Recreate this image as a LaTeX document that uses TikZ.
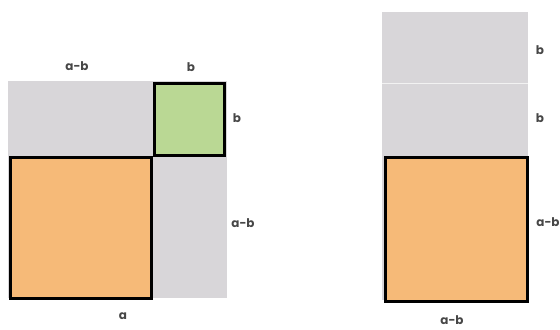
\documentclass[tikz,border=0pt]{standalone}
\usepackage{fontspec}
\setmainfont{Poppins}
\begin{document}
\begin{tikzpicture}[x=1bp,y=-1bp,
  lbl/.style={font=\fontsize{12}{13}\selectfont\bfseries, text=black!72, inner sep=0pt}]
\useasboundingbox (0,0) rectangle (560,329);
\definecolor{gr}{RGB}{216,214,217}
\definecolor{og}{RGB}{246,186,120}
\definecolor{gn}{RGB}{186,216,148}
% left figure
\fill[gr] (8,81) rectangle (227,298);
\node[draw=black, line width=3bp, fill=gn, minimum width=70bp, minimum height=72bp, inner sep=0pt, anchor=north west] (g) at (153,82) {};
\node[draw=black, line width=3bp, fill=og, minimum width=141bp, minimum height=141bp, inner sep=0pt, anchor=north west] (o) at (9,156) {};
\node[lbl] (l1) at (77,66) {a-b};
\node[lbl] (l2) at (191,67) {b};
\node[lbl] (l3) at (237,118) {b};
\node[lbl] (l4) at (243,223) {a-b};
\node[lbl] (l5) at (123,316) {a};
% right figure
\fill[gr] (382,12) rectangle (528,300);
\draw[white!90!gray, line width=0.6bp] (382,83) -- (528,83);
\node[draw=black, line width=2.5bp, fill=og, minimum width=142bp, minimum height=144bp, inner sep=0pt, anchor=north west] (o2) at (384,156) {};
\node[lbl] (r1) at (540,50) {b};
\node[lbl] (r2) at (540,118) {b};
\node[lbl] (r3) at (548,222) {a-b};
\node[lbl] (r4) at (452,320) {a-b};
\end{tikzpicture}
\end{document}
